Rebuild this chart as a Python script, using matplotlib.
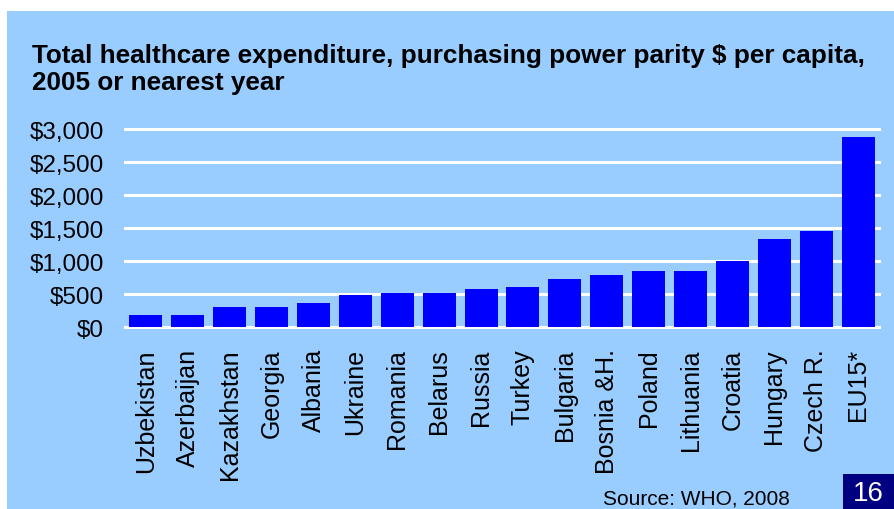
import matplotlib
matplotlib.use("Agg")
import matplotlib.pyplot as plt
from matplotlib.patches import Rectangle

countries = ["Uzbekistan", "Azerbaijan", "Kazakhstan", "Georgia", "Albania",
             "Ukraine", "Romania", "Belarus", "Russia", "Turkey", "Bulgaria",
             "Bosnia &H.", "Poland", "Lithuania", "Croatia", "Hungary",
             "Czech R.", "EU15*"]
spend = [185, 185, 310, 310, 375, 490, 520, 520, 580, 610, 730,
         790, 850, 850, 1005, 1340, 1460, 2880]
yticks = [0, 500, 1000, 1500, 2000, 2500, 3000]

bg = "#99CCFF"
plt.rcParams["font.family"] = ["Liberation Sans", "DejaVu Sans"]

W, H = 894, 510
fig = plt.figure(figsize=(W / 100, H / 100), dpi=100, facecolor="white")
fig.patches.append(Rectangle((7 / W, 0), 1, 1 - 12 / H, transform=fig.transFigure,
                             facecolor=bg, edgecolor="none", zorder=-10))

ax = fig.add_axes([125 / W, 1 - 328.3 / H, 754 / W, 198 / H])
ax.set_facecolor("none")
x = range(len(countries))
ax.bar(x, spend, width=0.79, color="#0000FF", zorder=3)
ax.set_xlim(-0.5, len(countries) - 0.5)
ax.set_ylim(0, 3000)
ax.set_yticks(yticks)
ax.set_yticklabels(["${:,}".format(v) for v in yticks])
ax.set_xticks(list(x))
ax.set_xticklabels(countries, rotation=90, va="top", ha="center")
for s in ax.spines.values():
    s.set_visible(False)
for v in yticks:
    ax.axhline(v, color="white", lw=2.2, zorder=1, clip_on=False)
ax.tick_params(axis="both", length=0, labelsize=17.5, pad=15)
ax.tick_params(axis="x", labelsize=18)

fig.text(32 / W, 1 - 44 / H,
         "Total healthcare expenditure, purchasing power parity $ per capita,\n2005 or nearest year",
         fontsize=18.8, fontweight="bold", ha="left", va="top", linespacing=1.15)
fig.text(603 / W, 1 - 505 / H, "Source: WHO, 2008", fontsize=15,
         ha="left", va="baseline")
fig.patches.append(Rectangle((843 / W, 0), 1, 35 / H, transform=fig.transFigure,
                             facecolor="#000080", edgecolor="none", zorder=1))
fig.text(868 / W, 1 - 501 / H, "16", fontsize=20, color="white",
         ha="center", va="baseline")

fig.savefig("out.png", dpi=100, facecolor="white")
